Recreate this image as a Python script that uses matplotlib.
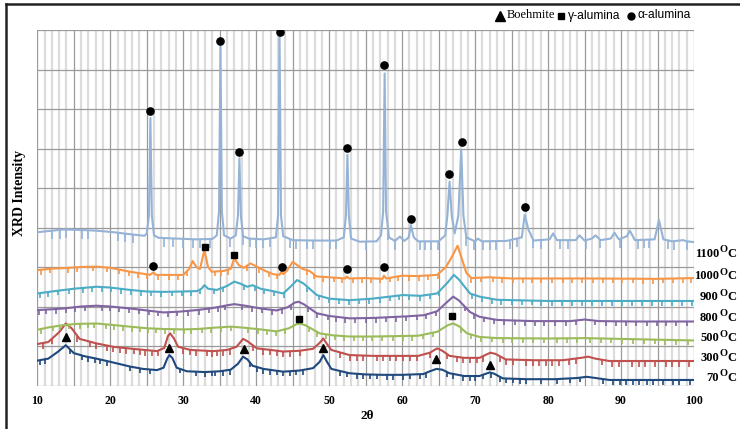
import numpy as np
import matplotlib.pyplot as plt
from matplotlib.lines import Line2D
from matplotlib.ticker import MultipleLocator, FuncFormatter

# XRD patterns, stacked with offsets: (2theta, intensity)
trace_70 = [(10, 0.63), (11.5, 0.68), (12.8, 0.85), (13.9, 1.02), (15.0, 0.82), (16.5, 0.74),
            (18.1, 0.68), (20, 0.6), (22.7, 0.48), (24.5, 0.42), (26.4, 0.39), (27.3, 0.45),
            (27.8, 0.68), (28.1, 0.77), (28.5, 0.7), (29.1, 0.45), (30.5, 0.36), (33, 0.34),
            (35, 0.36), (36.5, 0.4), (37.5, 0.55), (38.2, 0.73), (38.8, 0.66), (39.5, 0.5),
            (41, 0.42), (43.7, 0.35), (46, 0.38), (47.8, 0.44), (48.7, 0.6), (49.2, 0.77),
            (49.7, 0.6), (50.3, 0.42), (52.8, 0.31), (55, 0.28), (57.4, 0.27), (60, 0.27),
            (62.9, 0.29), (63.8, 0.36), (64.7, 0.42), (65.5, 0.4), (66.5, 0.31), (68.5, 0.24),
            (70.6, 0.24), (71.5, 0.3), (72.0, 0.33), (72.6, 0.3), (73.8, 0.18), (77, 0.16),
            (81, 0.16), (84, 0.19), (85.3, 0.22), (86.5, 0.19), (88.4, 0.14), (94, 0.14), (100, 0.14)]

trace_300 = [(10, 1.05), (11.5, 1.1), (13.0, 1.35), (13.9, 1.57), (14.7, 1.45), (15.8, 1.18),
             (18, 1.07), (20.4, 0.98), (23, 0.93), (26.4, 0.87), (27.4, 0.95), (27.9, 1.25),
             (28.2, 1.32), (28.7, 1.2), (29.3, 0.98), (31, 0.9), (34.1, 0.87), (36, 0.9),
             (37.3, 0.98), (38.2, 1.18), (38.8, 1.12), (40.1, 0.94), (42, 0.9), (43.7, 0.86),
             (46, 0.88), (47.8, 0.93), (48.7, 1.08), (49.2, 1.19), (49.7, 1.05), (50.3, 0.9),
             (52.8, 0.77), (56, 0.75), (60, 0.75), (62.2, 0.75), (63.8, 0.83), (64.8, 0.94),
             (65.5, 0.88), (66.5, 0.75), (68.5, 0.7), (70.6, 0.7), (71.5, 0.78), (72.1, 0.83),
             (72.8, 0.8), (74.2, 0.66), (78, 0.64), (82, 0.64), (84.5, 0.7), (85.5, 0.73),
             (86.5, 0.68), (88.4, 0.62), (94, 0.62), (100, 0.62)]

trace_500 = [(10, 1.41), (11.5, 1.47), (13.6, 1.53), (15.5, 1.56), (18.1, 1.57), (20.5, 1.53),
             (22.7, 1.49), (25, 1.45), (27.3, 1.43), (30, 1.42), (31.9, 1.43), (34, 1.46),
             (36.5, 1.49), (38.5, 1.46), (40.6, 1.42), (42.8, 1.37), (44.5, 1.45), (45.5, 1.55),
             (46.0, 1.57), (46.8, 1.52), (48.7, 1.32), (50.5, 1.27), (52.8, 1.24), (56, 1.24),
             (59, 1.25), (62.2, 1.26), (64.8, 1.36), (66.3, 1.53), (67.0, 1.57), (67.8, 1.5),
             (68.9, 1.32), (70.6, 1.23), (73, 1.2), (80, 1.19), (85, 1.2), (90, 1.18), (100, 1.14)]

trace_800 = [(10, 1.91), (12, 1.93), (13.6, 1.95), (16, 2.0), (18.1, 2.02), (20, 2.0),
             (22.7, 1.95), (25, 1.9), (27.3, 1.85), (29.5, 1.87), (31.9, 1.91), (34, 1.96),
             (36, 2.03), (37.0, 2.06), (38.5, 2.02), (40.6, 1.95), (42.8, 1.9), (44.3, 1.98),
             (45.3, 2.1), (45.8, 2.12), (46.5, 2.06), (48.3, 1.83), (50, 1.76), (52.8, 1.70),
             (56, 1.71), (60.6, 1.75), (63, 1.78), (64.8, 1.88), (66.2, 2.12), (67.0, 2.25),
             (67.8, 2.15), (69.3, 1.86), (70.6, 1.74), (73, 1.66), (78, 1.63), (83, 1.63),
             (85, 1.67), (87, 1.63), (92, 1.62), (100, 1.62)]

trace_900 = [(10, 2.33), (12, 2.38), (15, 2.45), (18.1, 2.5), (20, 2.48), (22.7, 2.42),
             (25, 2.38), (27.3, 2.37), (30, 2.38), (31.9, 2.39), (32.5, 2.45), (32.9, 2.54),
             (33.4, 2.45), (34.6, 2.42), (36, 2.52), (37.0, 2.63), (37.8, 2.58), (38.8, 2.5),
             (39.5, 2.54), (40.6, 2.45), (42, 2.4), (43.7, 2.33), (44.7, 2.5), (45.6, 2.67),
             (46.5, 2.58), (48.3, 2.29), (50, 2.2), (52.8, 2.16), (56, 2.2), (60.1, 2.29),
             (62.5, 2.27), (64.8, 2.33), (66.2, 2.6), (67.1, 2.8), (67.8, 2.68), (69.3, 2.33),
             (70.6, 2.25), (73, 2.17), (80, 2.14), (90, 2.14), (100, 2.14)]

trace_1000 = [(10, 2.92), (12, 2.96), (13.6, 2.97), (16, 3.0), (18.1, 3.01), (20, 2.98),
              (22.7, 2.88), (24.5, 2.83), (25.4, 2.8), (25.9, 2.86), (26.3, 2.8), (27.3, 2.8),
              (30.0, 2.8), (30.8, 2.95), (31.3, 3.15), (31.8, 3.0), (32.3, 2.95), (32.9, 3.43),
              (33.4, 3.0), (33.9, 2.88), (35.5, 2.9), (36.5, 2.95), (37.0, 3.22), (37.6, 3.05),
              (38.3, 2.98), (39.2, 3.09), (40.0, 3.02), (41, 2.92), (42.3, 2.82), (43.2, 2.8),
              (43.4, 2.87), (43.7, 2.82), (44.2, 2.9), (45.0, 3.13), (45.6, 3.05), (46.4, 2.95),
              (47.3, 2.9), (48.3, 2.76), (50, 2.74), (52.2, 2.71), (52.4, 2.76), (52.7, 2.71),
              (55, 2.72), (57.3, 2.7), (57.5, 2.78), (57.8, 2.71), (60.0, 2.78), (62, 2.77),
              (64.8, 2.8), (66.0, 3.0), (66.8, 3.25), (67.6, 3.54), (68.2, 3.2), (68.8, 2.85),
              (69.5, 2.72), (72, 2.74), (75, 2.71), (85, 2.71), (95, 2.7), (100, 2.72)]

trace_1100 = [(10, 3.88), (11, 3.9), (13.6, 3.95), (15.5, 3.94), (18.1, 3.92), (20.5, 3.88),
              (22.7, 3.83), (24.7, 3.79), (25.0, 3.85), (25.3, 4.3), (25.5, 6.77), (25.7, 4.3),
              (26.0, 3.8), (26.6, 3.74), (29, 3.72), (31.8, 3.7), (34, 3.71), (34.6, 3.8),
              (34.9, 4.4), (35.1, 8.58), (35.3, 4.4), (35.6, 3.8), (36.5, 3.72), (37.2, 3.8),
              (37.5, 4.3), (37.7, 5.75), (37.9, 4.3), (38.2, 3.78), (39, 3.72), (41, 3.7),
              (42.7, 3.75), (43.0, 4.3), (43.2, 8.87), (43.4, 4.3), (43.7, 3.78), (45, 3.68),
              (48, 3.67), (51, 3.67), (52.0, 3.75), (52.3, 4.3), (52.5, 5.84), (52.7, 4.3),
              (53.0, 3.72), (54.2, 3.64), (56.5, 3.65), (57.1, 3.8), (57.4, 4.4), (57.6, 7.9),
              (57.8, 4.4), (58.2, 3.75), (59.0, 3.66), (59.7, 3.77), (60.3, 3.66), (60.9, 3.75),
              (61.2, 4.06), (61.6, 3.75), (62.2, 3.65), (65, 3.65), (65.9, 3.8), (66.2, 4.3),
              (66.5, 5.16), (66.8, 4.3), (67.2, 3.85), (67.7, 4.3), (68.1, 5.96), (68.4, 4.3),
              (68.8, 3.75), (70.0, 3.65), (70.4, 3.72), (70.9, 3.65), (74.3, 3.66), (76.4, 3.75),
              (76.8, 4.32), (77.3, 3.95), (78, 3.67), (80.2, 3.7), (80.7, 3.85), (81.2, 3.68),
              (83.8, 3.68), (84.3, 3.8), (85.0, 3.67), (86.0, 3.72), (86.5, 3.8), (87.2, 3.68),
              (88.6, 3.72), (89.1, 3.87), (89.7, 3.7), (90.8, 3.78), (91.2, 3.92), (91.9, 3.68),
              (94.6, 3.7), (95.2, 4.19), (95.8, 3.7), (97, 3.65), (98.5, 3.68), (99, 3.65), (100, 3.63)]

# 2theta positions of the short downward glitches on each pattern
spikes_70 = [10.4, 11.0, 14.5, 16.1, 17.0, 17.9, 18.6, 19.5, 22.7, 24.1, 25.4, 29.5, 31.8, 33.0,
             33.9, 34.3, 35.4, 36.4, 39.1, 40.1, 41.0, 41.9, 42.8, 43.7, 44.6, 45.5, 46.4, 51.5,
             52.4, 53.8, 54.7, 55.6, 56.5, 57.9, 58.8, 60.1, 61.1, 62.4, 63.3, 66.1, 67.0, 68.4,
             69.3, 70.0, 71.1, 72.2, 73.4, 74.3, 75.2, 76.1, 77.0, 79.1, 81.2, 83.0, 84.4, 87.5,
             88.9, 89.8, 90.7, 91.6, 92.5, 93.5, 94.4, 95.7, 97.1, 98.0, 99.4]
spikes_300 = [10.8, 12.0, 15.5, 17.2, 18.1, 19.5, 20.4, 21.3, 22.2, 23.2, 24.1, 24.8, 25.7, 26.6,
              30.0, 30.9, 31.8, 33.2, 33.9, 34.6, 35.5, 36.4, 39.6, 41.0, 41.9, 42.8, 43.7,
              44.6, 46.0, 51.5, 52.8, 53.8, 54.7, 56.5, 57.4, 58.3, 59.2, 60.1, 61.1, 62.0, 63.8,
              66.1, 67.5, 68.4, 69.3, 70.2, 71.1, 73.4, 74.3, 75.2, 77.0, 77.9, 78.8, 79.7, 80.6,
              81.5, 82.9, 83.8, 87.4, 88.8, 89.7, 91.5, 92.4, 93.3, 94.7, 96.1, 97.0, 97.9, 99.3]
spikes_500 = [10.5, 12.2, 13.1, 14.4, 15.8, 16.9, 17.8, 19.4, 20.5, 21.8, 23.0, 24.1, 25.2, 26.3,
              27.5, 28.7, 30.1, 31.0, 32.6, 33.8, 35.2, 36.6, 38.9, 40.3, 41.5, 42.7, 43.9, 47.2,
              48.4, 49.6, 50.8, 52.0, 53.4, 54.6, 55.9, 57.2, 58.8, 60.1, 61.4, 62.9, 64.2, 68.1,
              69.4, 70.8, 72.3, 73.8, 75.0, 76.5, 78.0, 79.4, 81.2, 82.6, 84.0, 85.8, 87.2, 88.6,
              90.2, 91.7, 93.1, 94.6, 96.0, 97.5, 99.2]
spikes_800 = [10.3, 11.2, 12.6, 14.0, 15.1, 16.6, 18.8, 20.0, 21.2, 22.5, 24.0, 25.3, 26.5, 27.9,
              29.2, 30.6, 32.1, 33.5, 34.8, 35.7, 38.1, 39.4, 40.8, 42.1, 43.5, 44.8, 47.1, 48.3,
              49.8, 51.0, 52.2, 53.6, 55.0, 56.4, 57.8, 59.1, 60.5, 62.0, 63.3, 64.6, 68.6, 69.9,
              71.2, 72.6, 74.0, 75.4, 76.8, 78.2, 79.5, 80.9, 82.4, 83.8, 86.5, 88.0, 89.3, 90.7,
              92.1, 93.5, 94.9, 96.2, 97.6, 99.0]
spikes_900 = [10.4, 11.5, 12.9, 14.3, 16.2, 17.5, 18.9, 20.1, 21.5, 22.9, 24.2, 25.6, 27.0, 28.4,
              29.8, 31.1, 32.3, 34.2, 35.5, 38.3, 39.8, 41.1, 42.4, 43.8, 47.0, 48.6, 50.0, 51.3,
              52.7, 54.1, 55.5, 56.9, 58.3, 59.6, 61.0, 62.4, 63.8, 65.1, 69.6, 70.9, 72.3, 73.6,
              75.0, 76.4, 77.8, 79.1, 80.5, 81.9, 83.3, 84.6, 86.0, 87.4, 88.8, 90.1, 91.5, 92.9,
              94.2, 95.6, 97.0, 98.4, 99.7]
spikes_1000 = [10.5, 11.8, 14.2, 15.4, 17.6, 19.6, 21.2, 22.5, 23.8, 25.1, 26.6, 28.0, 29.3, 30.5,
               34.3, 35.2, 36.1, 38.7, 40.4, 41.7, 42.9, 46.9, 47.9, 49.2, 50.6, 51.8, 53.3, 54.5,
               55.8, 56.9, 58.4, 59.5, 61.0, 62.3, 63.6, 64.9, 69.5, 70.8, 72.4, 73.7, 75.2, 76.5,
               77.8, 79.1, 80.6, 82.0, 83.3, 84.7, 86.1, 87.5, 88.9, 90.2, 91.6, 93.0, 94.4, 95.8,
               97.1, 98.5, 99.6]
spikes_1100 = [12.0, 13.1, 14.0, 16.1, 17.0, 21.1, 22.0, 23.1, 27.3, 28.6, 30.0, 31.4, 32.3, 33.6,
               36.4, 38.2, 39.1, 40.0, 40.9, 41.9, 44.6, 45.5, 46.9, 47.8, 50.1, 51.0, 55.1, 58.1,
               59.0, 62.4, 63.1, 64.0, 64.9, 68.8, 69.9, 71.1, 72.0, 72.9, 74.8, 75.7, 77.9, 79.1,
               81.6, 82.7, 85.2, 87.1, 89.8, 92.3, 93.2, 93.9, 96.4, 97.3, 99.1]

temps = ['70', '300', '500', '800', '900', '1000', '1100']

# phase markers (2theta, height)
boehmite_x = [13.9, 28.1, 38.3, 49.2, 64.7, 72.1]
boehmite_y = [1.24, 0.96, 0.92, 0.94, 0.67, 0.52]
gamma_x = [33.0, 36.9, 45.9, 66.9]
gamma_y = [3.50, 3.30, 1.68, 1.76]
alpha_x = [25.4, 35.0, 37.7, 43.2, 52.4, 57.5, 61.2, 66.4, 68.2, 76.9, 25.9, 43.5, 52.5, 57.5]
alpha_y = [6.95, 8.71, 5.92, 8.96, 6.01, 8.11, 4.21, 5.35, 6.17, 4.53, 3.03, 2.99, 2.94, 3.01]

phase_names = ['Boehmite', 'γ-alumina', 'α-alumina']

traces = [trace_70, trace_300, trace_500, trace_800, trace_900, trace_1000, trace_1100]
spikes = [spikes_70, spikes_300, spikes_500, spikes_800, spikes_900, spikes_1000, spikes_1100]

colors = ['#1f497d', '#c0504d', '#9bbb59', '#8064a2', '#4bacc6', '#f79646', '#95b3d7']
spike_depth = [0.12, 0.14, 0.12, 0.12, 0.12, 0.12, 0.22]
label_y = [0.19, 0.70, 1.20, 1.71, 2.24, 2.77, 3.33]

W, H = 740, 429
fig = plt.figure(figsize=(7.4, 4.29), dpi=100)
ax = fig.add_axes([37.3 / W, 1 - 385.5 / H, (694 - 37.3) / W, 355.5 / H])

for tr, sp, c, d in zip(traces, spikes, colors, spike_depth):
    x = np.array([p[0] for p in tr])
    y = np.array([p[1] for p in tr])
    ax.plot(x, y, color=c, lw=1.5, zorder=3)
    sy = np.interp(sp, x, y)
    ax.vlines(sp, sy - d, sy, color=c, lw=1.2, zorder=3)

ax.plot(boehmite_x, boehmite_y, '^', color='black', ms=5.5, ls='none', zorder=4)
ax.plot(gamma_x, gamma_y, 's', color='black', ms=5, ls='none', zorder=4)
ax.plot(alpha_x, alpha_y, 'o', color='black', ms=5.2, ls='none', zorder=4)

ax.set_xlim(10, 100)
ax.set_ylim(0, 9)
ax.xaxis.set_major_locator(MultipleLocator(5))
ax.xaxis.set_minor_locator(MultipleLocator(1))
ax.xaxis.set_major_formatter(FuncFormatter(lambda v, p: '%d' % v if v % 10 == 0 else ''))
ax.yaxis.set_major_locator(MultipleLocator(1))
ax.set_yticklabels([])
ax.tick_params(which='both', length=0)
ax.tick_params(axis='x', pad=7)
for lab in ax.get_xticklabels():
    lab.set_fontfamily('Liberation Serif')
    lab.set_fontweight('bold')
    lab.set_fontsize(8.5)
ax.grid(which='minor', axis='x', color='#dcdcdc', lw=1.6, zorder=0)
ax.grid(which='major', axis='both', color='#9a9a9a', lw=0.9, zorder=1)
ax.set_axisbelow(True)
for s in ax.spines.values():
    s.set_visible(False)

# temperature labels: number, raised "O", then "C"
lab_font = dict(family='Liberation Serif', fontweight='bold', va='center', ha='right',
                annotation_clip=False, textcoords='offset pixels')
for t, ly in zip(temps, label_y):
    ax.annotate('C', (105.8, ly), xytext=(0, 0), fontsize=9, **lab_font)
    ax.annotate('O', (105.8, ly), xytext=(-8.5, 4), fontsize=7.5, **lab_font)
    ax.annotate(t, (105.8, ly), xytext=(-17.5, 0), fontsize=9, **lab_font)

fig.text(367 / W, 1 - 416 / H, '2θ', ha='center', va='center', fontsize=9.5,
         family='Liberation Serif', fontweight='bold')
fig.text(20 / W, 1 - 193 / H, 'XRD Intensity', rotation=90, ha='center', va='center',
         fontsize=10, family='Liberation Serif', fontweight='bold')

# key at the top right, laid out by hand
key_y = 1 - 15.5 / H
key_marks = [('^', 6.5, 500), ('s', 4.5, 561), ('o', 5, 631)]
key_text = [(507, 'Liberation Serif', 9), (568, 'Liberation Sans', 8.7), (638, 'Liberation Sans', 8.7)]
for (m, ms, mx), (tx, fam, fs), name in zip(key_marks, key_text, phase_names):
    fig.add_artist(Line2D([mx / W], [key_y], marker=m, ms=ms, color='black', ls='none'))
    fig.text(tx / W, key_y, name, ha='left', va='center', family=fam, fontsize=fs)

# frame lines at left and top edge of the picture
fig.add_artist(Line2D([6 / W, 6 / W], [0, 1 - 4 / H], color='#222222', lw=1.8))
fig.add_artist(Line2D([6 / W, 1], [1 - 4 / H, 1 - 4 / H], color='#222222', lw=1.8))

fig.savefig('out.png', dpi=100)
